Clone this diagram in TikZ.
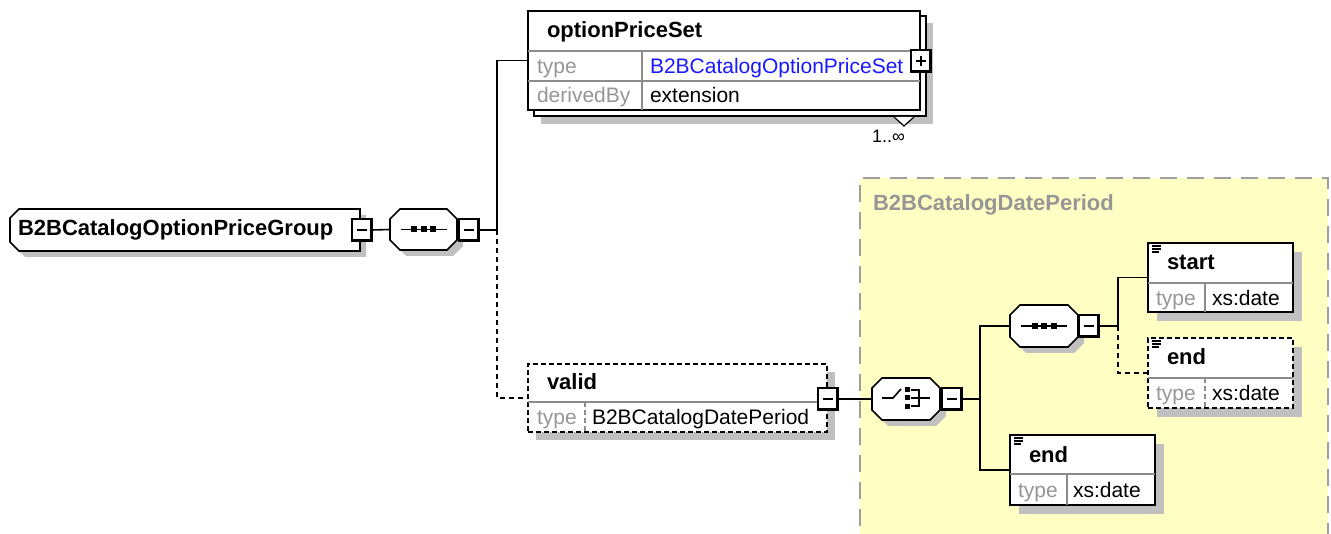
\documentclass[tikz,border=0pt]{standalone}
\usepackage{fontspec}
\setmainfont{Liberation Sans}
\definecolor{shadowgray}{RGB}{192,192,192}
\definecolor{lblgray}{RGB}{150,150,150}
\definecolor{divgray}{RGB}{140,140,140}
\definecolor{linkblue}{RGB}{25,25,255}
\definecolor{yellowbg}{RGB}{255,255,196}
\definecolor{regborder}{RGB}{160,160,160}
\newcommand\octp[4]{([shift={({#3+#2},{#4})}]#1.north west) -- ([shift={({#3-#2},{#4})}]#1.north east) -- ([shift={(#3,{#4+#2})}]#1.north east) -- ([shift={(#3,{#4-#2})}]#1.south east) -- ([shift={({#3-#2},#4)}]#1.south east) -- ([shift={({#3+#2},#4)}]#1.south west) -- ([shift={(#3,{#4-#2})}]#1.south west) -- ([shift={(#3,{#4+#2})}]#1.north west) -- cycle}
\newcommand\grpp[4]{([shift={({#3+#2},{#4})}]#1.north west) -- ([shift={(#3,#4)}]#1.north east) -- ([shift={(#3,#4)}]#1.south east) -- ([shift={({#3+#2},#4)}]#1.south west) -- ([shift={(#3,{#4-#2})}]#1.south west) -- ([shift={(#3,{#4+#2})}]#1.north west) -- cycle}
\newcommand\pmdeco[1]{%
  \draw[line width=3pt] ([xshift=-0.9pt]#1.north east) -- ([xshift=-0.9pt,yshift=-1.5pt]#1.south east);
  \draw[line width=3pt] ([yshift=0.9pt]#1.south west) -- ([yshift=0.9pt]#1.south east);
  \draw[line width=1.4pt] ([xshift=-5pt]#1.center) -- ([xshift=5pt]#1.center);}
\newcommand\plusdeco[1]{\pmdeco{#1}\draw[line width=1.4pt] ([yshift=-5pt]#1.center) -- ([yshift=5pt]#1.center);}
\newcommand\seqicon[1]{%
  \draw[line width=1.8pt] ([xshift=-23pt]#1.center) -- ([xshift=23pt]#1.center);
  \fill ([shift={(-12.5,-3)}]#1.center) rectangle ([shift={(-6.5,3)}]#1.center);
  \fill ([shift={(-3,-3)}]#1.center) rectangle ([shift={(3,3)}]#1.center);
  \fill ([shift={(6.5,-3)}]#1.center) rectangle ([shift={(12.5,3)}]#1.center);}
\newcommand\listicon[1]{%
  \draw[line width=1.1pt] ([shift={(4,3)}]#1.north west) -- ([shift={(13,3)}]#1.north west);
  \draw[line width=1.1pt] ([shift={(4,6)}]#1.north west) -- ([shift={(13,6)}]#1.north west);
  \draw[line width=1.1pt] ([shift={(4,9)}]#1.north west) -- ([shift={(11,9)}]#1.north west);}
\tikzset{
  every node/.style={inner sep=0pt, outer sep=0pt},
  txt/.style={font=\fontsize{21}{24}\selectfont, anchor=base west, text=black},
  btxt/.style={font=\fontsize{22}{25}\selectfont\bfseries, anchor=base west, text=black},
  gtxt/.style={txt, text=lblgray},
  frame/.style={draw=black, line width=1.8pt, fill=white, anchor=north west, rectangle},
  dframe/.style={frame, dash pattern=on 5pt off 3pt},
  anchorbox/.style={draw=none, anchor=north west, rectangle},
  conn/.style={draw=black, line width=1.6pt},
  dconn/.style={conn, dash pattern=on 5pt off 4pt},
  div/.style={draw=divgray, line width=1.4pt},
  shade/.style={fill=shadowgray},
  pmbox/.style={draw=black, line width=1.2pt, fill=white, minimum width=20pt, minimum height=22pt, anchor=center},
  octline/.style={draw=black, line width=1.6pt, fill=white},
}
\begin{document}
\begin{tikzpicture}[x=1pt,y=-1pt]
\useasboundingbox[fill=white] (0,0) rectangle (1331,534);
% ---- yellow complex type region
\node[anchorbox, draw=regborder, fill=yellowbg, line width=1.8pt, dash pattern=on 17pt off 10pt, minimum width=468pt, minimum height=380pt] (dp) at (860,178) {};
\node[btxt, text=lblgray] (dpl) at (873,211) {B2BCatalogDatePeriod};
% ---- group
\node[anchorbox, minimum width=350pt, minimum height=42pt] (grp) at (10,209) {};
\fill[shade] \grpp{grp}{9}{6}{6};
\draw[octline] \grpp{grp}{9}{0}{0};
\node[btxt] (grpt) at (18,236) {B2BCatalogOptionPriceGroup};
\node[pmbox] (grpm) at (362,230) {};
\pmdeco{grpm}
% ---- sequence 1
\node[anchorbox, minimum width=67pt, minimum height=41pt] (seq1) at (390,209) {};
\fill[shade] \octp{seq1}{10}{6}{6};
\draw[octline] \octp{seq1}{10}{0}{0};
\seqicon{seq1}
\node[pmbox] (s1m) at (469,230) {};
\pmdeco{s1m}
% ---- optionPriceSet
\fill[shade] (541,23) rectangle (933,124);
\node[frame, minimum width=392pt, minimum height=100pt] (opsb) at (534,16) {};
\node[frame, minimum width=392pt, minimum height=99pt] (ops) at (528,11) {};
\draw[div] (528,51) -- (920,51);
\draw[div] (528,81) -- (920,81);
\draw[div] (642,51) -- (642,110);
\node[btxt] (opsn) at (547,38) {optionPriceSet};
\node[gtxt] (opst) at (537,74) {type};
\node[txt, text=linkblue] (opsv) at (650,74) {B2BCatalogOptionPriceSet};
\node[gtxt] (opsd) at (537,103) {derivedBy};
\node[txt] (opse) at (650,103) {extension};
\node[pmbox] (opsp) at (921,61) {};
\plusdeco{opsp}
\draw[line width=1.2pt, fill=white] (894,117) -- (904,126) -- (914,117);
\node[txt, font=\fontsize{18}{20}\selectfont] (occ) at (872,143) {1..∞};
% ---- valid
\fill[shade] (536,372) rectangle (835,440);
\node[dframe, minimum width=299pt, minimum height=68pt] (valid) at (528,364) {};
\draw[div] (528,402) -- (827,402);
\draw[div, dash pattern=on 5pt off 3pt] (585,402) -- (585,432);
\node[btxt] (validn) at (547,390) {valid};
\node[gtxt] (validt) at (537,425) {type};
\node[txt] (validv) at (592,425) {B2BCatalogDatePeriod};
\node[pmbox] (vm) at (828,399) {};
\pmdeco{vm}
% ---- choice
\node[anchorbox, minimum width=68pt, minimum height=42pt] (ch) at (872,378) {};
\fill[shade] \octp{ch}{10}{6}{6};
\draw[octline] \octp{ch}{10}{0}{0};
\draw[line width=1.6pt] (882,398) -- (893,398) -- (901,389);
\fill (905,387) rectangle (910,392);
\fill (905,395.5) rectangle (910,400.5);
\fill (905,404) rectangle (910,409);
\draw[line width=1.4pt] (911,390) -- (919,390) -- (919,406) -- (911,406);
\draw[line width=1.4pt] (911,398) -- (930,398);
\node[pmbox] (chm) at (952,399) {};
\pmdeco{chm}
% ---- sequence 2
\node[anchorbox, minimum width=68pt, minimum height=42pt] (seq2) at (1010,305) {};
\fill[shade] \octp{seq2}{10}{6}{6};
\draw[octline] \octp{seq2}{10}{0}{0};
\seqicon{seq2}
\node[pmbox] (s2m) at (1089,326) {};
\pmdeco{s2m}
% ---- start
\fill[shade] (1157,252) rectangle (1302,321);
\node[frame, minimum width=145pt, minimum height=69pt] (start) at (1148,243) {};
\draw[div] (1148,283) -- (1293,283);
\draw[div] (1205,283) -- (1205,312);
\listicon{start}
\node[btxt] (startn) at (1167,270) {start};
\node[gtxt] (startt) at (1156,306) {type};
\node[txt] (startv) at (1212,306) {xs:date};
% ---- end (optional)
\fill[shade] (1157,347) rectangle (1302,417);
\node[dframe, minimum width=145pt, minimum height=70pt] (enda) at (1148,338) {};
\draw[div] (1148,378) -- (1293,378);
\draw[div, dash pattern=on 5pt off 3pt] (1205,378) -- (1205,408);
\listicon{enda}
\node[btxt] (endan) at (1167,365) {end};
\node[gtxt] (endat) at (1156,401) {type};
\node[txt] (endav) at (1212,401) {xs:date};
% ---- end (choice branch)
\fill[shade] (1019,444) rectangle (1164,514);
\node[frame, minimum width=145pt, minimum height=70pt] (endb) at (1010,435) {};
\draw[div] (1010,474) -- (1155,474);
\draw[div] (1067,474) -- (1067,505);
\listicon{endb}
\node[btxt] (endbn) at (1029,462) {end};
\node[gtxt] (endbt) at (1018,497) {type};
\node[txt] (endbv) at (1073,497) {xs:date};
% ---- connectors
\coordinate (j1) at (497,230);
\coordinate (j2) at (980,399);
\coordinate (j3) at (1118,326);
\draw[conn] (grpm.east) -- (seq1.west);
\draw[conn] (s1m.east) -- (j1);
\draw[conn] (j1) |- (ops.west);
\draw[dconn] (j1) |- (valid.west);
\draw[conn] (vm.east) -- (ch.west);
\draw[conn] (chm.east) -- (j2);
\draw[conn] (seq2.west) -| (j2) |- (endb.west);
\draw[conn] (s2m.east) -- (j3);
\draw[conn] (j3) |- (start.west);
\draw[dconn] (j3) |- (enda.west);
\end{tikzpicture}
\end{document}
